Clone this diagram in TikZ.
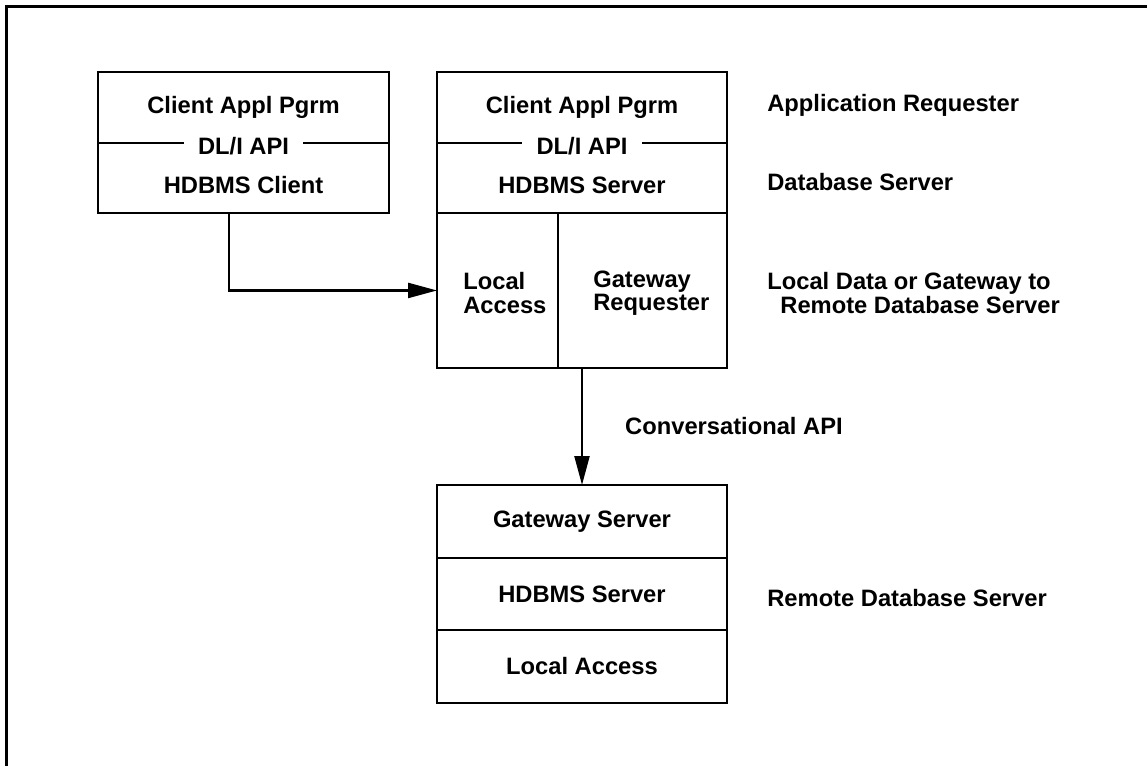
\documentclass[tikz,border=0pt]{standalone}
\usepackage{fontspec}
\setmainfont{Liberation Sans}
\usetikzlibrary{arrows.meta, positioning}

\begin{document}
\begin{tikzpicture}[
    x=0.02cm, y=-0.02cm,
    frame/.style={line width=1.8pt},
    cell/.style={rectangle, draw, line width=1.5pt, outer sep=0pt,
                 align=center, font=\fontsize{13.5}{13.2}\selectfont\bfseries},
    txt/.style={inner sep=0pt, align=left,
                font=\fontsize{13.5}{13.2}\selectfont\bfseries},
    api/.style={fill=white, inner xsep=8pt, inner ysep=2pt,
                font=\fontsize{13.5}{13.2}\selectfont\bfseries},
    conn/.style={-{Triangle[length=16.5pt, width=8.5pt]}, line width=1.4pt}
]

\useasboundingbox (0,0) rectangle (1147,765);

%% Page frame (top and left edge)
\draw[frame] (6.5,770) -- (6.5,6.5) -- (1150,6.5);

%% Client stack
\node[cell, minimum width=5.82cm, minimum height=1.42cm] (lapp) at (243.5,107.5) {Client Appl Pgrm};
\node[cell, minimum width=5.82cm, minimum height=1.4cm, below=0pt of lapp] (lcli) {};
\node[txt] (lclit) at ([yshift=-0.14cm]lcli.center) {HDBMS Client};
\node[api] (lapi) at ([yshift=-0.06cm]lapp.south) {DL/I API};

%% Database server stack
\node[cell, minimum width=5.8cm, minimum height=1.42cm] (mapp) at (582,107.5) {Client Appl Pgrm};
\node[cell, minimum width=5.8cm, minimum height=1.4cm, below=0pt of mapp] (msrv) {};
\node[txt] (msrvt) at ([yshift=-0.14cm]msrv.center) {HDBMS Server};
\node[api] (mapi) at ([yshift=-0.06cm]mapp.south) {DL/I API};
\node[cell, minimum width=2.42cm, minimum height=3.1cm, anchor=north west] (mloc) at (msrv.south west) {};
\node[cell, minimum width=3.38cm, minimum height=3.1cm, anchor=north east] (mgw) at (msrv.south east) {};
\node[txt, anchor=west] (mloct) at (463,293) {Local\\Access};
\node[txt, anchor=west] (mgwt) at (593,293) {Gateway\\Requester};

%% Remote server stack
\node[cell, minimum width=5.8cm, minimum height=1.46cm] (rgw) at (582,521.5) {Gateway Server};
\node[cell, minimum width=5.8cm, minimum height=1.44cm, below=0pt of rgw] (rsrv) {HDBMS Server};
\node[cell, minimum width=5.8cm, minimum height=1.46cm, below=0pt of rsrv] (rloc) {Local Access};

%% Role labels
\node[txt, anchor=west] (areq) at (767,105) {Application Requester};
\node[txt, anchor=west] (dbsrv) at (767,182) {Database Server};
\node[txt, anchor=west] (gwnote) at (767,293) {Local Data or Gateway to\\\hspace*{0.55em}Remote Database Server};
\node[txt, anchor=west] (rdbsrv) at (767,598) {Remote Database Server};

%% Connectors
\draw[conn] ([xshift=-0.29cm]lcli.south) |- (mloc.west);
\draw[conn] (rgw.north |- mgw.south) -- node[txt, right=0.84cm] (conv) {Conversational API} (rgw.north);

\end{tikzpicture}
\end{document}
